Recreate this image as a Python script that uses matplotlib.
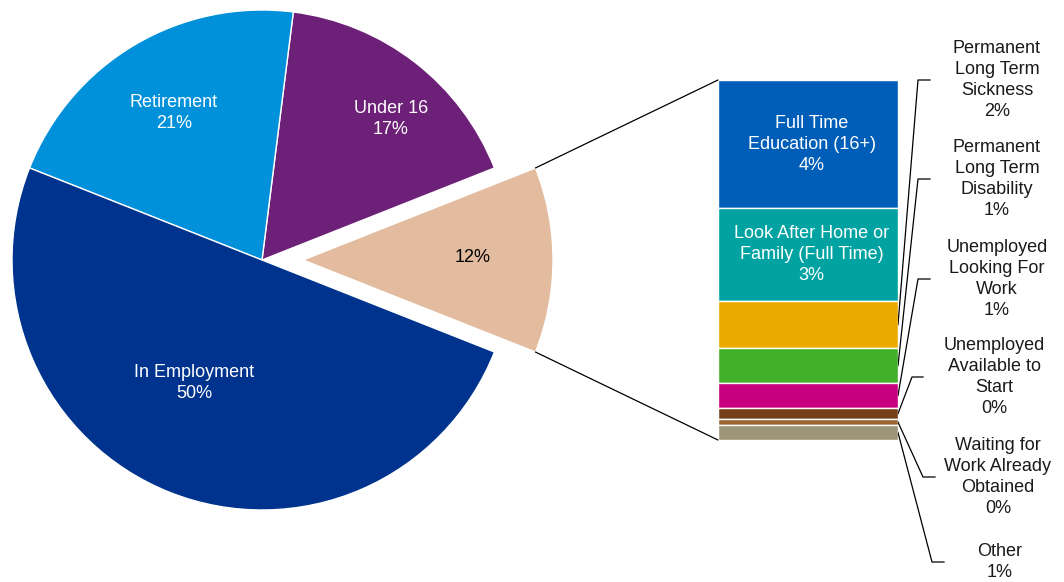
import numpy as np
import matplotlib.pyplot as plt
from matplotlib.patches import ConnectionPatch

plt.rcParams['font.family'] = ['Liberation Sans', 'DejaVu Sans']

# main pie: economic activity shares (%)
pie_labels = ['Other', 'Under 16', 'Retirement', 'In Employment']
pie_values = [12, 17, 21, 50]
pie_colors = ['#E3BC9F', '#6D2077', '#0091DA', '#00338D']

# breakdown of "Other", listed top to bottom of the bar
sub_labels = ['Full Time\nEducation (16+)',
              'Look After Home or\nFamily (Full Time)',
              'Permanent\nLong Term\nSickness',
              'Permanent\nLong Term\nDisability',
              'Unemployed\nLooking For\nWork',
              'Unemployed\nAvailable to\nStart',
              'Waiting for\nWork Already\nObtained',
              'Other']
sub_values = [4.3, 3.1, 1.6, 1.15, 0.85, 0.37, 0.2, 0.5]
sub_colors = ['#005EB8', '#00A3A1', '#EAAA00', '#43B02A', '#C6007E',
              '#753F19', '#9B642E', '#9E9579']

W, H = 1064, 582
fig = plt.figure(figsize=(W / 100, H / 100), dpi=100)
ax = fig.add_axes([0, 0, 1, 1])

# explode is an absolute offset in data units (pixels here)
wedges, _ = ax.pie(pie_values, colors=pie_colors, center=(262, H - 260),
                   radius=250, explode=[41, 0, 0, 0], startangle=-21.6,
                   counterclock=True,
                   wedgeprops=dict(edgecolor='white', linewidth=1))
ax.set_xlim(0, W)
ax.set_ylim(0, H)
ax.set_aspect('equal')
ax.axis('off')

def pct(v):
    return '%d%%' % int(v + 0.5)

# pie labels
label_pos = {'Other': (473, 257), 'Under 16': (391, 119),
             'Retirement': (174, 113), 'In Employment': (194, 383)}
for name, val in zip(pie_labels, pie_values):
    x, y = label_pos[name]
    if name == 'Other':
        txt, col = pct(val), 'black'
    else:
        txt, col = name + '\n' + pct(val), 'white'
    ax.text(x, H - y, txt, ha='center', va='center', color=col, fontsize=13,
            linespacing=1.3)

# stacked bar for the breakdown
bx0, bx1, by0, by1 = 718, 898, 80, 440
bax = fig.add_axes([bx0 / W, (H - by1) / H, (bx1 - bx0) / W, (by1 - by0) / H])
total = sum(sub_values)
bottoms = total - np.cumsum(sub_values)
bax.bar([0.5] * len(sub_values), sub_values, width=1, bottom=bottoms,
        color=sub_colors, edgecolor='white', linewidth=1)
bax.set_xlim(0, 1)
bax.set_ylim(0, total)
bax.axis('off')

# lines from exploded wedge to bar
w = wedges[0]
cx, cy = w.center
for ang, yb in [(w.theta2, 1), (w.theta1, 0)]:
    px = cx + w.r * np.cos(np.radians(ang))
    py = cy + w.r * np.sin(np.radians(ang))
    con = ConnectionPatch(xyA=(px, py), coordsA=ax.transData,
                          xyB=(0, yb), coordsB=bax.transAxes,
                          color='black', linewidth=0.9)
    fig.add_artist(con)

# labels inside the two largest segments
for i in range(2):
    mid = bottoms[i] + sub_values[i] / 2
    bax.text(0.52, mid, sub_labels[i] + '\n' + pct(sub_values[i]),
             ha='center', va='center', color='white', fontsize=13,
             linespacing=1.3)

# outside labels with leader lines: (elbow x, label y, end x, text x) in px
leaders = [(918, 80, 930, 997), (918, 179, 930, 997), (918, 279, 930, 997),
           (912, 377, 923, 994), (923, 477, 935, 998), (932, 562, 944, 1000)]
to_main = bax.transData + ax.transData.inverted()
for i, (ex, ly, endx, tx) in zip(range(2, len(sub_values)), leaders):
    mid = bottoms[i] + sub_values[i] / 2
    sx, sy = to_main.transform((1, mid))
    ax.plot([sx, ex, endx], [sy, H - ly, H - ly], color='black',
            linewidth=0.9, clip_on=False)
    ax.text(tx, H - ly, sub_labels[i] + '\n' + pct(sub_values[i]),
            ha='center', va='center', color='#1a1a1a', fontsize=13,
            linespacing=1.3)

fig.savefig('out.png', dpi=100)
